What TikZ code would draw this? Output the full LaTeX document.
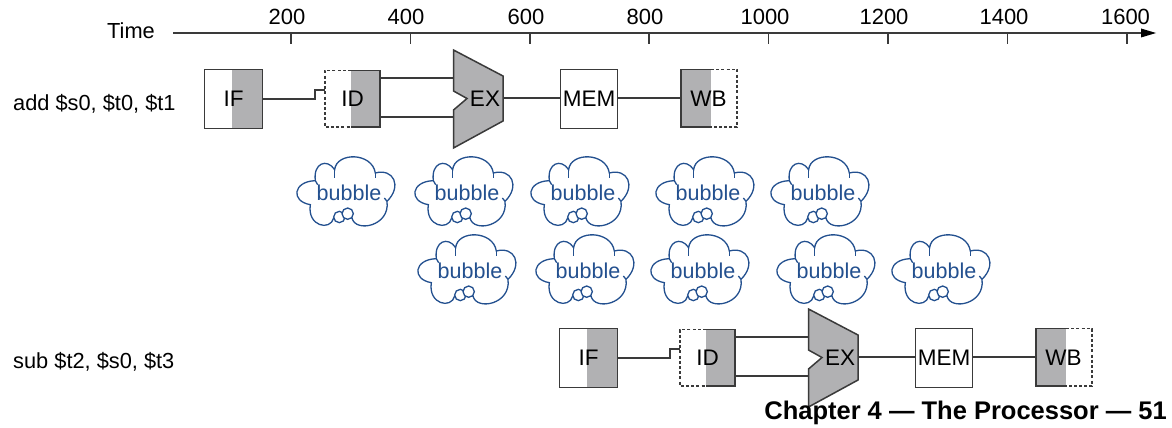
\documentclass[tikz,border=0pt]{standalone}
\usepackage{fontspec}
\setmainfont{Liberation Sans}
\definecolor{stagegray}{HTML}{B1B1B3}
\definecolor{linegray}{HTML}{3A3A3A}
\definecolor{bubbleblue}{HTML}{23508F}
\tikzset{
  x=1pt,y=-1pt,
  wire/.style={draw=linegray,line width=1.5pt},
  solidstage/.style={rectangle,minimum width=#1,minimum height=59pt,inner sep=0pt,font=\fontsize{22.5}{26}\selectfont},
  solidstage/.default=58pt,
  plainlabel/.style={inner sep=0pt,font=\fontsize{21.8}{25}\selectfont},
  ticklabel/.style={inner sep=0pt,font=\fontsize{22}{25}\selectfont},
  bubbletext/.style={inner sep=0pt,text=bubbleblue,font=\fontsize{21.5}{24}\selectfont},
  cloudline/.style={draw=bubbleblue,line width=1.3pt},
  cloudpic/.pic={
    \begin{scope}[scale=1/3]
      \draw[cloudline,fill=white] (55,68) .. controls (48,15) and (90,0) .. (113,35)
        .. controls (118,-18) and (225,-18) .. (235,45)
        .. controls (290,30) and (316,85) .. (270,130)
        .. controls (280,205) and (175,225) .. (165,180)
        -- (110,180)
        .. controls (100,220) and (30,205) .. (40,140)
        .. controls (-20,130) and (-12,70) .. (55,68) -- cycle;
      \draw[cloudline] (113,35) -- (113,60);
      \draw[cloudline] (235,45) -- (235,60);
      \draw[cloudline] (55,68) -- (62,80);
      \draw[cloudline] (270,130) -- (262,120);
      \draw[cloudline,fill=white] (127,177) circle (17);
      \draw[cloudline,fill=white] (152,167) circle (17);
    \end{scope}
    \node[bubbletext] (-t) at (52,35) {bubble};
  },
  pipeline/.pic={
    % IF
    \fill[stagegray] (232,69.5) rectangle (262.5,128.5);
    \node[solidstage,draw=linegray,line width=1.5pt] (-if) at (233.5,99) {IF};
    % ID
    \fill[stagegray] (351,70.5) rectangle (380,127);
    \draw[wire,dash pattern=on 3pt off 2.2pt] (351,70.5) -- (325,70.5) -- (325,127) -- (351,127);
    \draw[wire] (351,70.5) -- (380,70.5) -- (380,127) -- (351,127);
    \node[solidstage=55pt,minimum height=56.5pt] (-id) at (352.5,99) {ID};
    % EX
    \draw[wire,fill=stagegray] (453.5,50) -- (503,76) -- (503,121) -- (453.5,148) -- (453.5,110) -- (467,98.5) -- (453.5,91) -- cycle;
    \node[solidstage=36pt,minimum height=40pt] (-ex) at (485,99) {EX};
    % MEM
    \node[solidstage,draw=linegray,line width=1.5pt,minimum width=57pt] (-mem) at (589,99) {MEM};
    % WB
    \fill[stagegray] (681,69.5) rectangle (711,127);
    \draw[wire] (711,69.5) -- (681,69.5) -- (681,127) -- (711,127);
    \draw[wire,dash pattern=on 3pt off 2.2pt] (711,69.5) -- (737,69.5) -- (737,127) -- (711,127);
    \node[solidstage=56pt,minimum height=57.5pt] (-wb) at (708.5,99) {WB};
    % wires
    \draw[wire] (-if.east) -- (315,99) -- (315,90) -- (-id.west |- 0,90);
    \draw[wire] (-id.east |- 0,78) -- (453.5,78);
    \draw[wire] (-id.east |- 0,117) -- (453.5,117);
    \draw[wire] (503,98) -- (-mem.west |- 0,98);
    \draw[wire] (-mem.east |- 0,98) -- (-wb.west |- 0,98);
  }
}
\begin{document}
\begin{tikzpicture}[x=1pt,y=-1pt]
\useasboundingbox (0,0) rectangle (1172,428);
% axis
\coordinate (axstart) at (173,33);
\coordinate (axend) at (1156,33);
\draw[wire] (axstart) -- (1142,33);
\fill[black] (axend) -- (1141,28.5) -- (1141,37.5) -- cycle;
\node[plainlabel] (time) at (131,31) {Time};
\foreach \v/\px in {200/287,400/406,600/526,800/645,1000/765,1200/884,1400/1004,1600/1125.5}{
  \node[ticklabel] (t\v) at (\px,17) {\v};
}
\foreach \px in {291,410.5,530,649,768.5,888,1007.5,1127}{
  \draw[wire] (\px,33) -- (\px,44);
}
% row labels
\node[plainlabel,anchor=west] (ladd) at (13,104) {add \$s0, \$t0, \$t1};
\node[plainlabel,anchor=west] (lsub) at (13,362) {sub \$t2, \$s0, \$t3};
% pipelines
\pic (a) at (0,0) {pipeline};
\pic (b) at (355,259) {pipeline};
% bubbles
\foreach \n/\cx/\cy in {1/297/158,2/415/158,3/531/158,4/656/158,5/771/158,6/418/236,7/536/236,8/651/236,9/777/236,10/892/236}{
  \pic (c\n) at (\cx,\cy) {cloudpic};
}
\node[inner sep=0pt,anchor=east,font=\bfseries\fontsize{25.5}{29}\selectfont] (foot) at (1167,413) {Chapter 4 — The Processor — 51};
\end{tikzpicture}
\end{document}
